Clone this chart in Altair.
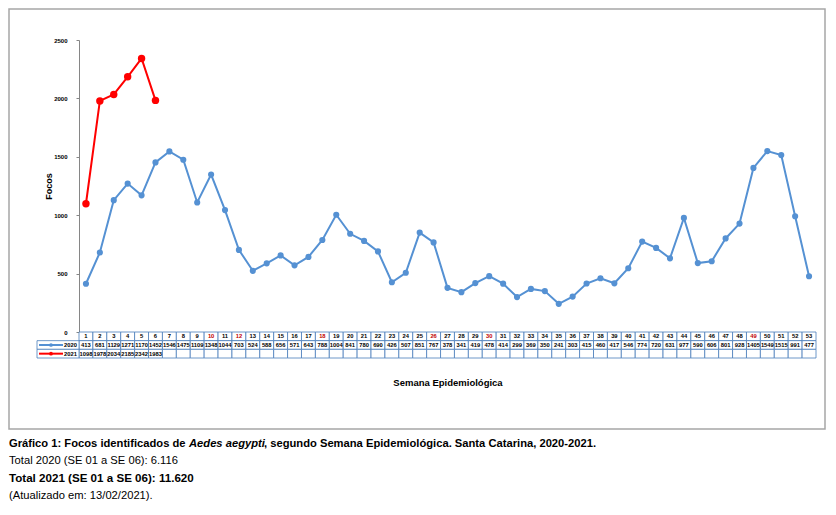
import altair as alt
import pandas as pd

weeks = list(range(1, 54))
v2020 = [413, 681, 1129, 1271, 1170, 1452, 1546, 1475, 1109, 1348, 1044, 703, 524, 588, 656, 571,
         643, 788, 1004, 841, 780, 690, 426, 507, 851, 767, 378, 341, 419, 478, 414, 299, 369, 350,
         241, 303, 415, 460, 417, 546, 774, 720, 631, 977, 590, 606, 801, 928, 1405, 1549, 1515, 991, 477]
v2021 = [1098, 1978, 2034, 2185, 2342, 1983]
years = ["2020", "2021"]
red_weeks = [10, 12, 18, 26, 30, 49]
y_ticks = [0, 500, 1000, 1500, 2000, 2500]

cap1a = "Gráfico 1: Focos identificados de"
cap1b = "Aedes aegypti"
cap1c = ", segundo Semana Epidemiológica. Santa Catarina, 2020-2021."
cap2 = "Total 2020 (SE 01 a SE 06): 6.116"
cap3 = "Total 2021 (SE 01 a SE 06): 11.620"
cap4 = "(Atualizado em: 13/02/2021)."

BLUE = "#5591d3"
RED = "#ff0000"
GRID = "#4a7ebb"
FONT = "Liberation Sans"
CAPFONT = "Liberation Sans"

rows = []
for w, v in zip(weeks, v2020):
    rows.append({"week": w, "year": "2020", "value": v})
for w, v in zip(weeks, v2021):
    rows.append({"week": w, "year": "2021", "value": v})
df = pd.DataFrame(rows)

xscale = alt.Scale(type="band", paddingInner=0, paddingOuter=0, domain=weeks)
cscale = alt.Scale(domain=years, range=[BLUE, RED])

X = alt.X("week:O", scale=xscale, axis=None)
Y = alt.Y("value:Q", scale=alt.Scale(domain=[0, 2500], nice=False),
          axis=alt.Axis(values=y_ticks, format="d", grid=False, title="Focos", titleFontSize=9,
                        titleFont=FONT, titleFontWeight="bold", titleColor="black", titlePadding=0,
                        labelFontSize=6, labelFont=FONT, labelFontWeight="bold", labelColor="black",
                        labelPadding=9, tickSize=3, tickColor="#868686", domainColor="#868686"))

base = alt.Chart(df).encode(x=X, y=Y,
                            color=alt.Color("year:N", scale=cscale, legend=None),
                            order=alt.Order("year:N"))
lines = base.mark_line(strokeWidth=2)
pts = base.mark_circle(opacity=1).encode(
    size=alt.Size("year:N", scale=alt.Scale(domain=years, range=[38, 55]), legend=None))
main = alt.layer(lines, pts).properties(width=737, height=292)

order_rows = ["h", "2020", "2021"]
trows = []
for i, w in enumerate(weeks):
    trows.append({"week": w, "row": "h", "label": str(w), "hl": w in red_weeks})
    trows.append({"week": w, "row": "2020", "label": str(v2020[i]), "hl": False})
    trows.append({"week": w, "row": "2021", "label": str(v2021[i]) if i < len(v2021) else "", "hl": False})
dft = pd.DataFrame(trows)

TX = alt.X("week:O", scale=xscale,
           axis=alt.Axis(title="Semana Epidemiológica", labels=False, ticks=False, domain=False,
                         titleFont=FONT, titleFontSize=9.5, titleFontWeight="bold",
                         titleColor="black", titlePadding=19))
TY = alt.Y("row:N", sort=order_rows, scale=alt.Scale(domain=order_rows, paddingInner=0, paddingOuter=0), axis=None)

frame = alt.Chart(pd.DataFrame({"a": [0]})).mark_rect(
    fillOpacity=0, stroke="#a6a6a6", strokeWidth=1.5).encode(
    x=alt.value(-70), x2=alt.value(746), y=alt.value(-323), y2=alt.value(97))

cells = alt.Chart(dft).mark_rect(fill="white", stroke=GRID, strokeWidth=0.8).encode(x=TX, y=TY)
ctext = alt.Chart(dft).mark_text(fontSize=5.8, fontWeight="bold", font=FONT).encode(
    x=TX, y=TY, text="label:N",
    color=alt.condition("datum.hl", alt.value("#c00000"), alt.value("black")))

dfl = pd.DataFrame({"row": years, "year": years})
lcell = alt.Chart(dfl).mark_rect(fill="white", stroke=GRID, strokeWidth=0.8).encode(
    x=alt.value(-42), x2=alt.value(0), y=TY)
lline = alt.Chart(dfl).mark_rule(strokeWidth=2).encode(
    x=alt.value(-40), x2=alt.value(-16), y=TY,
    color=alt.Color("year:N", scale=cscale, legend=None))
lpt = alt.Chart(dfl).mark_circle(opacity=1, size=14).encode(
    x=alt.value(-28), y=TY, color=alt.Color("year:N", scale=cscale, legend=None))
ltext = alt.Chart(dfl).mark_text(align="right", fontSize=5.8, fontWeight="bold", font=FONT,
                                 color="black").encode(x=alt.value(-2), y=TY, text="year:N")

one = pd.DataFrame({"a": [0]})
def cap(txt, x, y, weight="normal", style="normal", size=11.2):
    return alt.Chart(one).mark_text(align="left", baseline="middle", font=CAPFONT, fontSize=size,
                                    fontWeight=weight, fontStyle=style, color="black").encode(
        x=alt.value(x), y=alt.value(y), text=alt.value(txt))

caps = [cap(cap1a, -70, 112, "bold"), cap(cap1b, 110, 112, "bold", "italic"),
        cap(cap1c, 185, 112, "bold"), cap(cap2, -70, 129), cap(cap3, -70, 147, "bold", size=11.6),
        cap(cap4, -70, 164)]

table = alt.layer(frame, cells, ctext, lcell, lline, lpt, ltext, *caps).properties(width=737, height=26)

chart = alt.vconcat(main, table, spacing=0, bounds="flush").properties(
    padding=0, background="white").configure_view(stroke=None)

chart.save("out.html", embed_options={"renderer": "svg", "actions": False})
